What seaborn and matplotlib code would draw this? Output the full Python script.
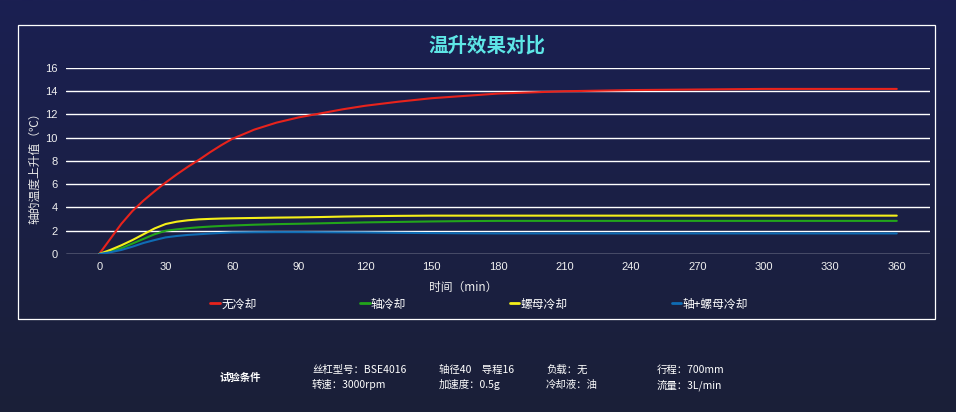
#!/usr/bin/env python3
# -*- coding: utf-8 -*-
import numpy as np
import pandas as pd
import matplotlib
matplotlib.use('Agg')
import matplotlib.pyplot as plt
import matplotlib.patches as patches
import seaborn as sns

# --------------------
# DATA
# --------------------
minutes = [0, 5, 10, 15, 20, 25, 30, 35, 40, 45, 50, 55, 60, 70, 80, 90, 100, 110, 120,
           135, 150, 165, 180, 210, 240, 270, 300, 330, 360]
no_cooling = [0, 1.3, 2.6, 3.7, 4.6, 5.4, 6.15, 6.85, 7.5, 8.1, 8.75, 9.35, 9.9, 10.7, 11.3, 11.75, 12.1, 12.45, 12.75,
              13.1, 13.4, 13.6, 13.8, 14.0, 14.1, 14.15, 14.2, 14.2, 14.2]
shaft_cooling = [0, 0.25, 0.5, 0.9, 1.3, 1.7, 2.0, 2.12, 2.22, 2.3, 2.36, 2.41, 2.45, 2.52, 2.57, 2.6, 2.64, 2.68, 2.72,
                 2.76, 2.8, 2.83, 2.85, 2.85, 2.85, 2.85, 2.85, 2.85, 2.85]
nut_cooling = [0, 0.35, 0.75, 1.2, 1.7, 2.2, 2.58, 2.78, 2.9, 2.98, 3.02, 3.05, 3.07, 3.1, 3.13, 3.15, 3.18, 3.22, 3.25,
               3.28, 3.3, 3.3, 3.3, 3.3, 3.3, 3.3, 3.3, 3.3, 3.3]
both_cooling = [0, 0.15, 0.35, 0.63, 0.95, 1.2, 1.43, 1.55, 1.64, 1.7, 1.76, 1.81, 1.85, 1.87, 1.88, 1.88, 1.87, 1.86, 1.85,
                1.82, 1.8, 1.78, 1.77, 1.77, 1.77, 1.77, 1.77, 1.77, 1.77]

series_names = ['无冷却', '轴冷却', '螺母冷却', '轴+螺母冷却']
series_colors = ['#e8231c', '#22a51b', '#f5f019', '#0f6cb4']
x_ticks = list(range(0, 361, 30))
y_ticks = list(range(0, 17, 2))

cond_row1 = ['丝杠型号：BSE4016', '轴径40　导程16', '负载：无', '行程：700mm']
cond_row2 = ['转速：3000rpm', '加速度：0.5g', '冷却液：油', '流量：3L/min']

# --------------------
# PLOT
# --------------------
sns.set_theme(style='white')
plt.rcParams['font.family'] = ['Liberation Sans', 'Noto Sans CJK SC', 'DejaVu Sans']
plt.rcParams['axes.unicode_minus'] = False
cjk = ['Noto Sans CJK SC', 'DejaVu Sans']

df = pd.DataFrame({'t': minutes * 4,
                   'val': no_cooling + shaft_cooling + nut_cooling + both_cooling,
                   'name': sum([[n] * len(minutes) for n in series_names], [])})

W, H = 956, 412
fig = plt.figure(figsize=(W / 100, H / 100), dpi=100)

# background gradient
bg = fig.add_axes([0, 0, 1, 1], zorder=-10)
grad = np.linspace(0, 1, 256).reshape(-1, 1)
top = np.array([0x1b, 0x1f, 0x52]) / 255
bot = np.array([0x1a, 0x20, 0x38]) / 255
img = top[None, None, :] * (1 - grad[:, :, None]) + bot[None, None, :] * grad[:, :, None]
bg.imshow(img, aspect='auto', extent=[0, 1, 0, 1])
bg.axis('off')

# white frame
fig.patches.append(patches.Rectangle((18 / W, 1 - 319 / H), (935 - 18) / W, (319 - 25) / H,
                                     transform=fig.transFigure, fill=False,
                                     edgecolor='white', linewidth=0.9))

ax = fig.add_axes([66 / W, 1 - 254 / H, (930 - 66) / W, (254 - 68) / H])
ax.set_facecolor('none')
sns.lineplot(data=df, x='t', y='val', hue='name', hue_order=series_names,
             palette=series_colors, linewidth=1.5, ax=ax, legend=False)

ax.set_xlim(-15, 375)
ax.set_ylim(0, 16)
ax.set_xticks(x_ticks)
ax.set_yticks(y_ticks)
ax.tick_params(colors='#f0f0f0', labelsize=8, length=0, pad=6)
ax.yaxis.grid(True, color='white', linewidth=1)
ax.xaxis.grid(False)
for s in ax.spines.values():
    s.set_visible(False)
ax.set_xlabel('')
ax.set_ylabel('')

fig.text(487 / W, 1 - 46 / H, '温升效果对比', color='#5ee6e6', fontsize=14,
         fontweight='bold', ha='center', va='center', family=cjk)
fig.text(35 / W, 1 - 165 / H, '轴的温度上升值（℃）', color='#e8e8e8', fontsize=8.5,
         rotation=90, ha='center', va='center', family=cjk)
fig.text(463 / W, 1 - 287 / H, '时间（min）', color='#f0f0f0', fontsize=8.5,
         ha='center', va='center', family=cjk)

handles = [plt.Line2D([], [], color=c, linewidth=2) for c in series_colors]
leg = fig.legend(handles, series_names, loc='center', ncol=4,
                 bbox_to_anchor=(479 / W, 1 - 304 / H), frameon=False,
                 prop={'family': cjk, 'size': 8.5}, handlelength=0.8, handletextpad=0.1,
                 columnspacing=8.8)
for t in leg.get_texts():
    t.set_color('white')

# test conditions
fig.text(219 / W, 1 - 378 / H, '试验条件', color='white', fontsize=7.5,
         fontweight='bold', ha='left', va='center', family=cjk)
col_x = [312, 439, 546, 657]
for x, s1, s2 in zip(col_x, cond_row1, cond_row2):
    fig.text(x / W, 1 - 370 / H, s1, color='white', fontsize=7.5, ha='left', va='center', family=cjk)
    fig.text(x / W, 1 - 385 / H, s2, color='white', fontsize=7.5, ha='left', va='center', family=cjk)

fig.savefig('out.png', dpi=100)
plt.close()
